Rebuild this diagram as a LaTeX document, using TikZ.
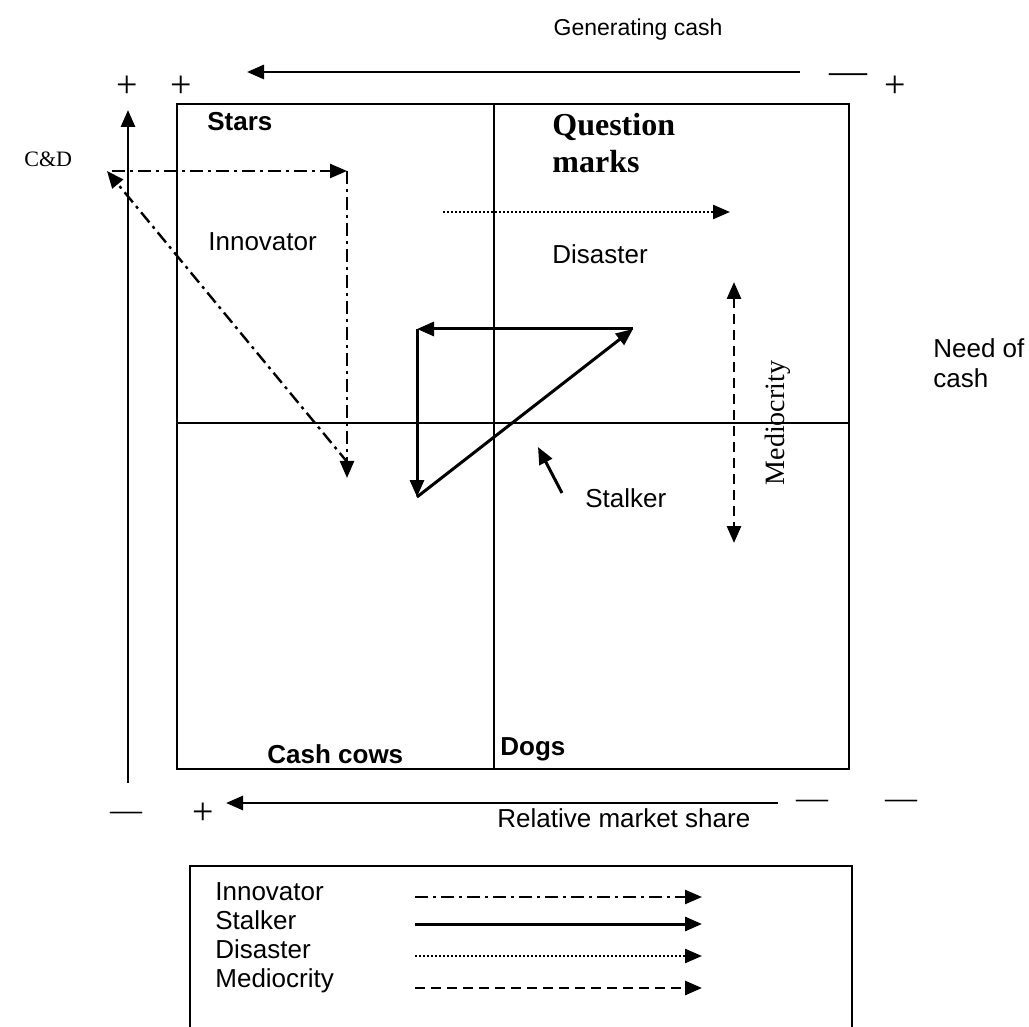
\documentclass[tikz,border=0pt]{standalone}
\usepackage{fontspec}
\setmainfont{Liberation Sans}
\newfontfamily\timesface{Liberation Serif}
\usetikzlibrary{arrows.meta}

\begin{document}
\begin{tikzpicture}[x=0.5pt,y=-0.5pt,>={Triangle[length=8.5pt,width=7pt]},
  txt/.style={font=\fontsize{13}{15}\selectfont, inner sep=0pt},
  head/.style={font=\fontsize{13}{15}\selectfont\bfseries, inner sep=0pt},
  roman/.style={font=\fontsize{11}{13}\timesface, inner sep=0pt},
  sign/.style={font=\fontsize{19}{20}\timesface, inner sep=0pt, anchor=base},
  axis/.style={->, line width=1.4pt},
  innovator/.style={->, line width=1.2pt, dash pattern=on 6.5pt off 2.5pt on 1.5pt off 2.5pt},
  stalker/.style={->, line width=1.5pt},
  disaster/.style={->, line width=1.2pt, dash pattern=on 1pt off 1pt},
  mediocrity/.style={->, line width=1.4pt, dash pattern=on 5pt off 3pt}]

  \useasboundingbox (0,0) rectangle (1029,1027);

  % the matrix
  \coordinate (NW) at (177,104);
  \coordinate (SE) at (849,769);
  \coordinate (mid) at (494,423);
  \draw[line width=1.1pt] (NW) rectangle (SE);
  \draw[line width=0.7pt] (mid |- NW) -- (mid |- SE);
  \draw[line width=0.7pt] (mid -| NW) -- (mid -| SE);

  \node[head, anchor=base west] (stars) at (207,131) {Stars};
  \node[font=\fontsize{16}{18.5}\timesface\bfseries, inner sep=0pt, align=left, anchor=base west] (qm) at (552,173) {Question\\marks};
  \node[head, anchor=base west] (cows) at (267,763) {Cash cows};
  \node[head, anchor=base west] (dogs) at (500,755) {Dogs};

  % axes
  \coordinate (gc1) at (800,72);
  \coordinate (gc2) at (247,72);
  \coordinate (ax1) at (128,783);
  \coordinate (ax2) at (128,110);
  \coordinate (rm1) at (778,803);
  \coordinate (rm2) at (226,803);
  \draw[axis] (gc1) -- (gc2);
  \draw[axis] (ax1) -- (ax2);
  \draw[axis] (rm1) -- (rm2);

  \node[txt, font=\fontsize{11.5}{14}\selectfont, anchor=base] (gen) at (638,36) {Generating cash};
  \node[txt, anchor=base west] (rel) at (497,827) {Relative market share};
  \node[txt, anchor=base west, align=left] (need) at (933,387) {Need of\\cash};
  \node[roman, anchor=base west] (cd) at (24,167) {C\&D};

  \node[sign] (p1) at (127,98) {+};
  \node[sign] (p2) at (181,98) {+};
  \node[sign] (m1) at (848,84) {—};
  \node[sign] (p3) at (895,98) {+};
  \node[sign, font=\fontsize{16}{18}\timesface] (m2) at (126,820) {—};
  \node[sign] (p4) at (203,824) {+};
  \node[sign, font=\fontsize{16}{18}\timesface] (m3) at (812,808) {—};
  \node[sign, font=\fontsize{16}{18}\timesface] (m4) at (901,808) {—};

  % innovator
  \coordinate (i1) at (348,463);
  \coordinate (i2) at (107,171);
  \coordinate (i3) at (347,171);
  \coordinate (i4) at (347,478);
  \draw[innovator] (i1) -- (i2);
  \draw[innovator] (i2 -| ax1) ++(-16,0) -- (i3);
  \draw[innovator] (i3) -- (i4);
  \node[txt, anchor=base west] (inn) at (208,251) {Innovator};

  % stalker
  \coordinate (s1) at (633,329);
  \coordinate (s2) at (417,329);
  \coordinate (s3) at (417,497);
  \coordinate (s4) at (562,493);
  \coordinate (s5) at (538,447);
  \draw[stalker] (s1) -- (s2);
  \draw[stalker] (s2) -- (s3);
  \draw[stalker] (s3) -- (s1);
  \draw[stalker] (s4) -- (s5);
  \node[txt, anchor=base west] (stl) at (585,508) {Stalker};

  % disaster
  \coordinate (d1) at (443,212);
  \coordinate (d2) at (730,212);
  \draw[disaster] (d1) -- (d2);
  \node[txt, anchor=base west] (dis) at (552,264) {Disaster};

  % mediocrity
  \coordinate (me1) at (734,282);
  \coordinate (me2) at (734,543);
  \draw[mediocrity, <->] (me1) -- (me2);
  \node[font=\fontsize{14}{16}\timesface, inner sep=0pt, rotate=90] (med) at (778,423) {Mediocrity};

  % legend
  \draw[line width=1.1pt] (190,1027) |- (852,866) -- (852,1027);
  \foreach \name/\style/\ytext/\yarrow in {Innovator/innovator/900/897, Stalker/stalker/929/924,
      Disaster/disaster/958/956, Mediocrity/mediocrity/987/988} {
    \node[txt, anchor=base west] (key-\name) at (215,\ytext) {\name};
    \coordinate (from-\name) at (415,\yarrow);
    \coordinate (to-\name) at (702,\yarrow);
    \draw[\style] (from-\name) -- (to-\name);
  }
\end{tikzpicture}
\end{document}
